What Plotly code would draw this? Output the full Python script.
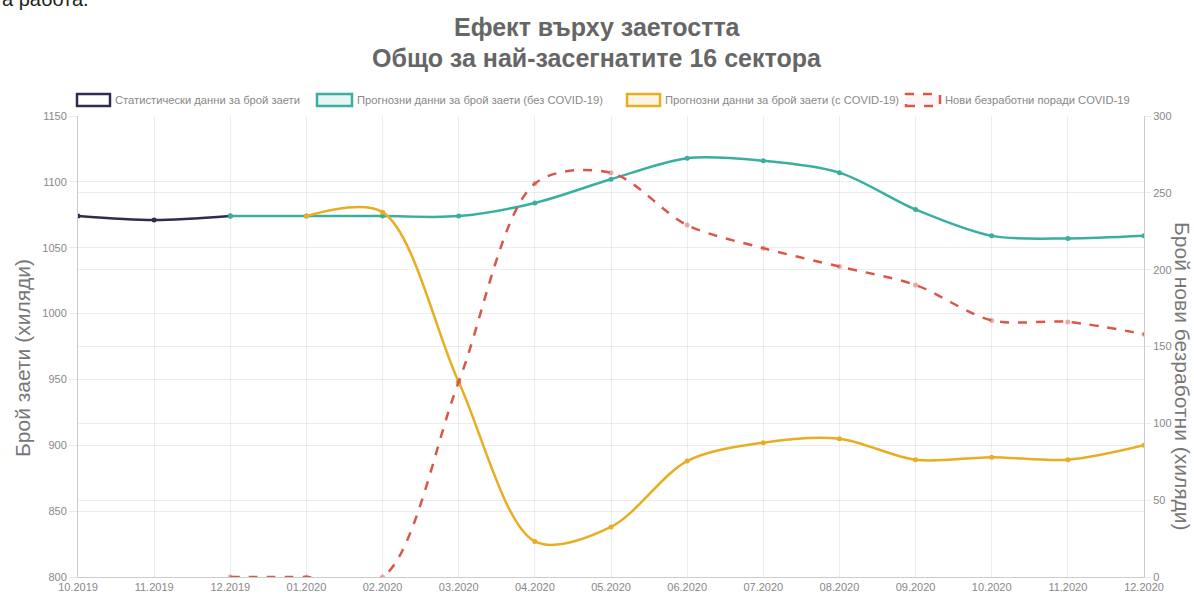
import plotly.graph_objects as go

months = ["10.2019", "11.2019", "12.2019", "01.2020", "02.2020", "03.2020", "04.2020",
          "05.2020", "06.2020", "07.2020", "08.2020", "09.2020", "10.2020", "11.2020", "12.2020"]

stat_months = months[0:3]
stat_values = [1074, 1071, 1074]

nocovid_months = months[2:]
nocovid_values = [1074, 1074, 1074, 1074, 1084, 1102, 1118, 1116, 1107, 1079, 1059, 1057, 1059]

covid_months = months[3:]
covid_values = [1074, 1077, 948, 827, 838, 888, 902, 905, 889, 891, 889, 900]

unemp_months = months[2:]
unemp_values = [0, 0, 0, 127, 256, 263, 229, 214, 202, 190, 167, 166, 158]

legend_labels = ["Статистически данни за брой заети",
                 "Прогнозни данни за брой заети (без COVID-19)",
                 "Прогнозни данни за брой заети (с COVID-19)",
                 "Нови безработни поради COVID-19"]

title_lines = ["Ефект върху заетостта", "Общо за най-засегнатите 16 сектора"]
y1_title = "Брой заети (хиляди)"
y2_title = "Брой нови безработни (хиляди)"

C_STAT = "#2e2d4d"
C_TEAL = "#3aaf9f"
C_ORNG = "#e9ad22"
C_RED = "#d9574a"
FONT = "Liberation Sans, Arial, sans-serif"

W, H = 1194, 597
L, R, T, B = 78, 1144, 116, 577


def px(x):
    return (x - L) / (R - L)


def py(y):
    return (B - y) / (B - T)


fig = go.Figure()
SM = 0.9
fig.add_trace(go.Scatter(x=stat_months, y=stat_values, mode="lines+markers",
                         line=dict(color=C_STAT, width=2.5, shape="spline", smoothing=SM),
                         marker=dict(size=5, color=C_STAT), showlegend=False))
fig.add_trace(go.Scatter(x=nocovid_months, y=nocovid_values, mode="lines+markers",
                         line=dict(color=C_TEAL, width=2.5, shape="spline", smoothing=SM),
                         marker=dict(size=5, color=C_TEAL), showlegend=False))
fig.add_trace(go.Scatter(x=covid_months, y=covid_values, mode="lines+markers",
                         line=dict(color=C_ORNG, width=2.5, shape="spline", smoothing=SM),
                         marker=dict(size=5, color=C_ORNG), showlegend=False))
fig.add_trace(go.Scatter(x=unemp_months, y=unemp_values, mode="lines+markers", yaxis="y2",
                         line=dict(color=C_RED, width=2.5, dash="dash", shape="spline", smoothing=SM),
                         marker=dict(size=5, color="rgba(217,87,74,0.5)"), showlegend=False))

GRID = "rgba(0,0,0,0.07)"
TICKF = dict(family=FONT, size=11, color="#888")

fig.update_layout(
    width=W, height=H,
    margin=dict(l=L, r=W - R, t=T, b=H - B),
    paper_bgcolor="white", plot_bgcolor="white",
    showlegend=False,
    xaxis=dict(type="category", categoryorder="array", categoryarray=months,
               range=[0, 14], showgrid=True, gridcolor=GRID, showline=True,
               linecolor="#ccc", tickfont=TICKF, ticks="", zeroline=False,
               automargin=False),
    yaxis=dict(range=[800, 1150], dtick=50, showgrid=True, gridcolor=GRID,
               showline=True, linecolor="#ccc", tickfont=TICKF, zeroline=False,
               ticks="outside", ticklen=8, tickcolor="rgba(0,0,0,0.08)",
               automargin=False),
    yaxis2=dict(range=[0, 300], dtick=50, overlaying="y", side="right",
                showgrid=True, gridcolor=GRID, showline=True, linecolor="#ccc",
                tickfont=TICKF, zeroline=False, ticks="outside", ticklen=6,
                tickcolor="rgba(0,0,0,0.08)", automargin=False),
)

# axis titles
fig.add_annotation(xref="paper", yref="paper", x=px(22), y=py(358),
                   text=y1_title, textangle=-90, showarrow=False,
                   xanchor="center", yanchor="middle",
                   font=dict(family=FONT, size=21, color="#777"))
fig.add_annotation(xref="paper", yref="paper", x=px(1183), y=py(376),
                   text=y2_title, textangle=90, showarrow=False,
                   xanchor="center", yanchor="middle",
                   font=dict(family=FONT, size=21, color="#777"))

# titles
for i, t in enumerate(title_lines):
    fig.add_annotation(xref="paper", yref="paper", x=px(597), y=py([27, 58][i]),
                       text="<b>%s</b>" % t, showarrow=False, xanchor="center", yanchor="middle",
                       font=dict(family=FONT, size=25, color="#666"))

# cropped page text at top-left
fig.add_annotation(xref="paper", yref="paper", x=px(0), y=py(-1), text="а работа.",
                   showarrow=False, xanchor="left", yanchor="middle",
                   font=dict(family=FONT, size=20, color="#222"))

# custom legend
legend_boxes = [(77, 110), (317, 352), (627, 660), (906, 940)]
box_colors = [C_STAT, C_TEAL, C_ORNG, C_RED]
box_fills = ["rgba(255,255,255,1)", "rgba(58,175,159,0.12)", "rgba(233,173,34,0.12)", "rgba(217,87,74,0.05)"]
box_dash = ["solid", "solid", "solid", "dash"]
for (x0, x1), c, f, d, lab in zip(legend_boxes, box_colors, box_fills, box_dash, legend_labels):
    fig.add_shape(type="rect", xref="paper", yref="paper",
                  x0=px(x0), x1=px(x1), y0=py(106), y1=py(94),
                  line=dict(color=c, width=2.5, dash=d), fillcolor=f)
    fig.add_annotation(xref="paper", yref="paper", x=px(x1 + 3), y=py(100), text=lab,
                       showarrow=False, xanchor="left", yanchor="middle",
                       font=dict(family=FONT, size=11.2, color="#888"))

fig.write_html("out.html", config={"displayModeBar": False},
               post_script="document.body.style.margin='0';")
